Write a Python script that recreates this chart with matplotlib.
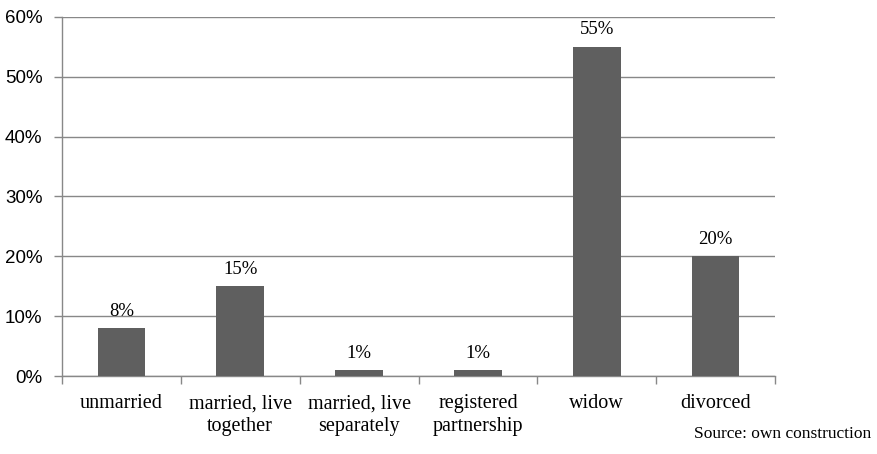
import matplotlib.pyplot as plt
from matplotlib.ticker import FuncFormatter, FixedLocator

categories = ["unmarried", "married, live\ntogether", "married, live\nseparately",
              "registered\npartnership", "widow", "divorced"]
values = [8, 15, 1, 1, 55, 20]

fig = plt.figure(figsize=(8.77, 4.54), dpi=100)
ax = fig.add_axes([0.0707, 0.1718, 0.813, 0.791])

x = range(len(categories))
ax.bar(x, values, width=0.4, color="#5f5f5f", zorder=3)

for xi, v in zip(x, values):
    ax.annotate(f"{v}%", (xi, v), xytext=(0, 6), textcoords="offset points",
                ha="center", va="bottom", fontsize=13.5, family="Liberation Serif")

ax.set_xlim(-0.5, len(categories) - 0.5)
ax.set_ylim(0, 60)
ax.set_yticks(range(0, 61, 10))
ax.yaxis.set_major_formatter(FuncFormatter(lambda v, p: f"{int(v)}%"))
ax.grid(axis="y", color="#888888", linewidth=1, zorder=0)

ax.set_xticks(list(x))
ax.set_xticklabels(categories, family="Liberation Serif", fontsize=14.5, linespacing=1.25)
ax.tick_params(axis="x", length=0, pad=13)
ax.xaxis.set_minor_locator(FixedLocator([i - 0.5 for i in range(len(categories) + 1)]))
ax.tick_params(axis="x", which="minor", length=6, color="#888888", width=1)
ax.tick_params(axis="y", length=6, color="#888888", width=1, labelsize=13.5, pad=8)
for lbl in ax.get_yticklabels():
    lbl.set_family("Liberation Sans")

for side in ["top", "right"]:
    ax.spines[side].set_visible(False)
for side in ["left", "bottom"]:
    ax.spines[side].set_color("#888888")
    ax.spines[side].set_linewidth(1)

fig.text(0.993, 0.045, "Source: own construction", ha="right", va="center",
         fontsize=12.5, family="Liberation Serif")

fig.savefig("out.png", dpi=100)
